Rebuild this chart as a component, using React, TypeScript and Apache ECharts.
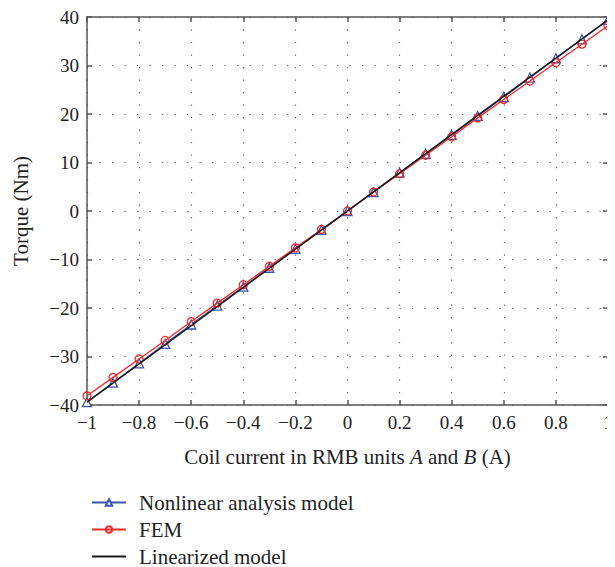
import React, { useEffect, useRef } from "react";
import * as echarts from "echarts";

const currents = [-1, -0.9, -0.8, -0.7, -0.6, -0.5, -0.4, -0.3, -0.2, -0.1, 0, 0.1, 0.2, 0.3, 0.4, 0.5, 0.6, 0.7, 0.8, 0.9, 1];
const nonlinearTorque = [-39.4, -35.4, -31.4, -27.4, -23.4, -19.5, -15.6, -11.7, -7.8, -3.9, 0, 3.9, 7.9, 11.8, 15.7, 19.6, 23.5, 27.5, 31.5, 35.4, 39.4];
const femTorque = [-38.1, -34.3, -30.5, -26.7, -22.8, -19.0, -15.2, -11.4, -7.6, -3.8, 0, 3.9, 7.7, 11.5, 15.3, 19.2, 23.0, 26.8, 30.6, 34.4, 38.2];
const linearCurrents = [-1, 1];
const linearTorque = [-39.4, 39.4];

const seriesNames = ["Nonlinear analysis model", "FEM", "Linearized model"];

const FONT = "'Liberation Serif', 'DejaVu Serif', serif";
const AXIS_COLOR = "#555555";
const TEXT_COLOR = "#222222";

const fmt = (v: number) => {
  const n = parseFloat(v.toFixed(1));
  return n.toString().replace("-", "\u2212");
};

export default function App() {
  const ref = useRef<HTMLDivElement>(null);
  useEffect(() => {
    if (!ref.current) return;
    const chart = echarts.init(ref.current, undefined, { renderer: "svg" });
    const axisLine = { show: true, onZero: false, lineStyle: { color: AXIS_COLOR, width: 1.5 } };
    const axisTick = { show: true, inside: true, length: 5, lineStyle: { color: AXIS_COLOR, width: 1.5 } };
    const splitLine = { show: true, lineStyle: { color: "#666666", width: 1.2, type: [1.3, 11.2] as any } };
    chart.setOption({
      animation: false,
      backgroundColor: "#ffffff",
      textStyle: { fontFamily: FONT },
      grid: { left: 87, right: 7, top: 17, bottom: 162, containLabel: false, outerBoundsMode: "none" },
      legend: {
        orient: "vertical",
        left: 91,
        top: 492,
        padding: 0,
        height: 75,
        itemWidth: 34,
        itemHeight: 8,
        itemGap: 6,
        data: [
          { name: seriesNames[0] },
          { name: seriesNames[1] },
          { name: seriesNames[2], itemStyle: { color: "transparent", borderColor: "transparent", opacity: 0 } },
        ],
        textStyle: { fontFamily: FONT, fontSize: 21, lineHeight: 21, color: TEXT_COLOR, padding: [0, 0, 0, 8] },
      },
      xAxis: [
        {
          type: "value",
          min: -1,
          max: 1,
          interval: 0.2,
          name: "Coil current in RMB units {i|A} and {i|B} (A)",
          nameLocation: "middle",
          nameGap: 41,
          nameTextStyle: {
            fontFamily: FONT,
            fontSize: 21,
            color: TEXT_COLOR,
            rich: { i: { fontFamily: FONT, fontSize: 21, fontStyle: "italic", color: TEXT_COLOR } },
          },
          axisLine,
          axisTick,
          splitLine,
          axisLabel: { formatter: fmt, fontFamily: FONT, fontSize: 19, color: TEXT_COLOR, margin: 8 },
        },
        {
          type: "value",
          position: "top",
          min: -1,
          max: 1,
          interval: 0.2,
          axisLine,
          axisTick,
          splitLine: { show: false },
          axisLabel: { show: false },
        },
      ],
      yAxis: [
        {
          type: "value",
          min: -40,
          max: 40,
          interval: 10,
          name: "Torque (Nm)",
          nameLocation: "middle",
          nameGap: 56,
          nameTextStyle: { fontFamily: FONT, fontSize: 21, color: TEXT_COLOR },
          axisLine,
          axisTick,
          splitLine,
          axisLabel: { formatter: fmt, fontFamily: FONT, fontSize: 19, color: TEXT_COLOR, margin: 8 },
        },
        {
          type: "value",
          position: "right",
          min: -40,
          max: 40,
          interval: 10,
          axisLine,
          axisTick,
          splitLine: { show: false },
          axisLabel: { show: false },
        },
      ],
      series: [
        {
          name: seriesNames[0],
          type: "line",
          data: currents.map((c, i) => [c, nonlinearTorque[i]]),
          symbol: "triangle",
          symbolSize: 9,
          showAllSymbol: true,
          z: 2,
          lineStyle: { color: "#3a55b0", width: 1.3 },
          itemStyle: { color: "#ffffff", borderColor: "#3a55b0", borderWidth: 1.3 },
        },
        {
          name: seriesNames[1],
          type: "line",
          data: currents.map((c, i) => [c, femTorque[i]]),
          symbol: "circle",
          symbolSize: 8,
          showAllSymbol: true,
          z: 3,
          lineStyle: { color: "#ee2a2a", width: 1.3 },
          itemStyle: { color: "rgba(255,255,255,0)", borderColor: "#ee2a2a", borderWidth: 1.3 },
        },
        {
          name: seriesNames[2],
          type: "line",
          data: linearCurrents.map((c, i) => [c, linearTorque[i]]),
          symbol: "none",
          z: 4,
          lineStyle: { color: "#1a1a1a", width: 1.5 },
          itemStyle: { color: "#1a1a1a" },
        },
      ],
    });
    return () => chart.dispose();
  }, []);
  return <div ref={ref} style={{ width: 615, height: 567, marginLeft: -8, marginTop: -8 }} />;
}
